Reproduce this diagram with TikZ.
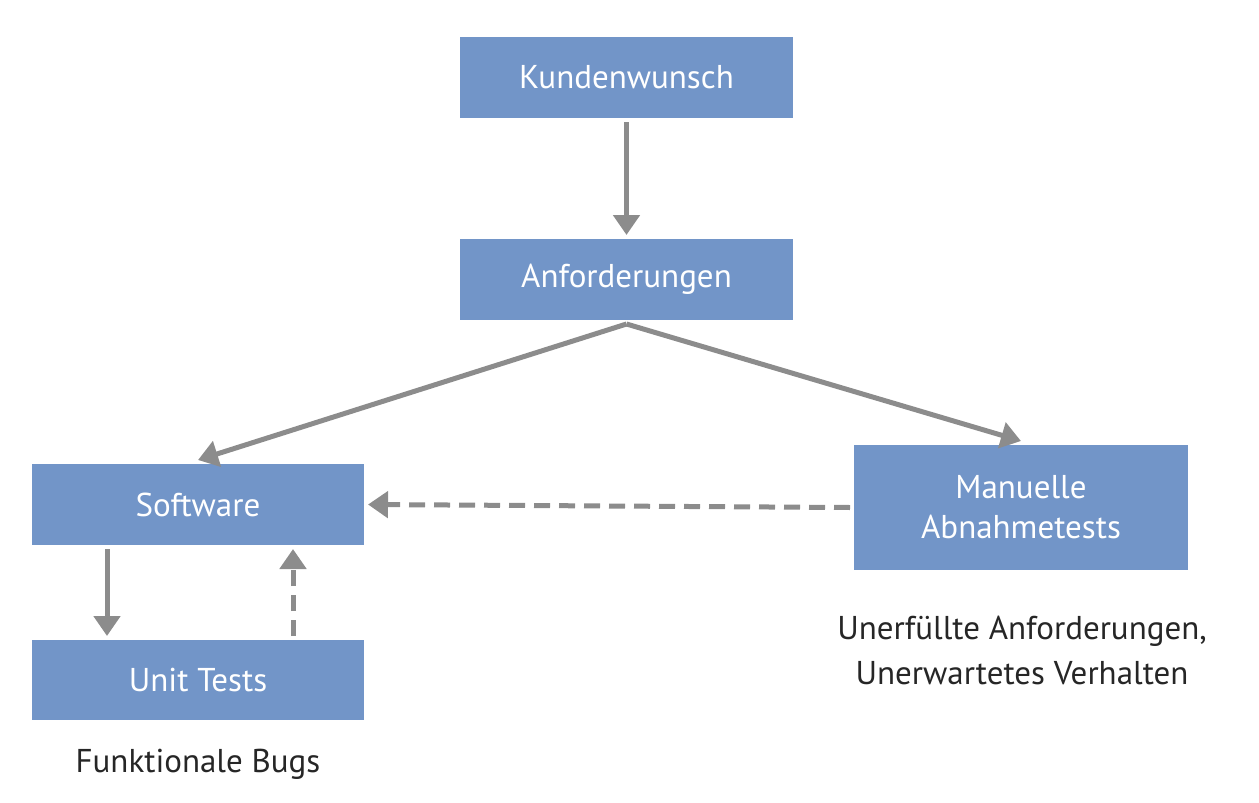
\documentclass[tikz,border=0pt]{standalone}
\usepackage{fontspec}
\setmainfont{PT Sans}
\usetikzlibrary{arrows.meta,shadows}
\definecolor{boxblue}{HTML}{7295C8}
\definecolor{arr}{HTML}{8C8C8C}
\begin{document}
\begin{tikzpicture}[x=1pt,y=-1pt,
  box/.style={draw=white,line width=4pt,fill=boxblue,text=white,font=\fontsize{33}{40}\selectfont,
    align=center,inner sep=0pt,drop shadow={shadow xshift=1pt,shadow yshift=-2pt,fill=black!35,opacity=0.6}},
  con/.style={draw=arr,line width=5pt,-{Triangle[length=20pt,width=26pt]}},
  dcon/.style={con,dash pattern=on 16pt off 9pt},
  lab/.style={font=\fontsize{33}{45}\selectfont,align=center,text=black!85}]
\useasboundingbox (0,0) rectangle (1259,803);
\node[box,minimum width=337,minimum height=85] (k) at (626.5,77.5) {Kundenwunsch};
\node[box,minimum width=337,minimum height=85] (a) at (626.5,279.5) {Anforderungen};
\node[box,minimum width=336,minimum height=85] (s) at (198,504.5) {Software};
\node[box,minimum width=338,minimum height=129] (m) at (1021,507.5) {Manuelle\\Abnahmetests};
\node[box,minimum width=336,minimum height=84] (u) at (198,680) {Unit Tests};
\draw[con] (k.south) -- (a.north);
\draw[con] (a.south) -- (s.north);
\draw[con] (a.south) -- (m.north);
\draw[dcon] (m.west) -- (s.east);
\draw[con] (s.south -| 107,0) -- (u.north -| 107,0);
\draw[dcon] (u.north -| 293,0) -- (s.south -| 293,0);
\node[lab] (l1) at (1022,650) {Unerfüllte Anforderungen,\\Unerwartetes Verhalten};
\node[lab] (l2) at (198,764) {Funktionale Bugs};
\end{tikzpicture}
\end{document}
